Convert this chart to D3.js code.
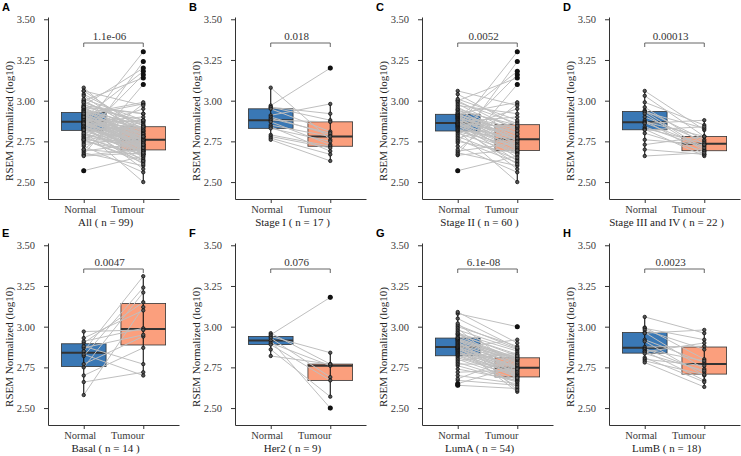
<!DOCTYPE html>
<html>
<head>
<script src="https://d3js.org/d3.v7.min.js"></script>
<style>
  body { margin: 0; background: #fff; }
</style>
</head>
<body>
<svg width="741" height="456"></svg>
<script>
var categories = ["Normal", "Tumour"];
var yTicks = [2.50, 2.75, 3.00, 3.25, 3.50];
var letters = ["A", "B", "C", "D", "E", "F", "G", "H"];
var subtitles = ["All ( n = 99)", "Stage I ( n = 17 )", "Stage II ( n = 60 )", "Stage III and IV ( n = 22 )",
                 "Basal ( n = 14 )", "Her2 ( n = 9)", "LumA ( n = 54)", "LumB ( n = 18)"];
var pValues = ["1.1e-06", "0.018", "0.0052", "0.00013", "0.0047", "0.076", "6.1e-08", "0.0023"];

// paired samples: index i of Normal goes with index i of Tumour
var stageINormal = [3.08, 2.97, 2.96, 2.96, 2.95, 2.91, 2.90, 2.89, 2.88, 2.87, 2.85, 2.84, 2.83, 2.79, 2.78, 2.77, 2.76];
var stageITumour = [2.76, 3.20, 2.92, 2.88, 2.81, 2.98, 2.79, 2.80, 2.87, 2.73, 2.78, 2.69, 2.75, 2.72, 2.71, 2.67, 2.63];

var stageIINormal = [2.57, 2.665, 2.67, 2.68, 2.69, 2.70, 2.72, 2.74, 2.75, 2.76, 2.77, 2.78, 2.79, 2.80, 2.81,
  2.815, 2.82, 2.825, 2.83, 2.835, 2.84, 2.84, 2.845, 2.85, 2.85, 2.855, 2.855, 2.86, 2.86, 2.86,
  2.865, 2.87, 2.875, 2.88, 2.885, 2.89, 2.89, 2.895, 2.90, 2.90, 2.905, 2.91, 2.91, 2.915, 2.915,
  2.92, 2.925, 2.93, 2.94, 2.945, 2.95, 2.96, 2.97, 2.98, 2.99, 3.00, 3.00, 3.01, 3.04, 3.06];
var stageIITumour = [2.66, 2.70, 3.10, 2.60, 2.74, 2.98, 2.56, 3.24, 2.675, 2.62, 2.87, 2.64, 3.16, 2.68, 2.72,
  2.50, 2.76, 2.685, 2.95, 2.61, 2.73, 3.30, 2.69, 2.58, 2.765, 2.705, 2.81, 2.63, 2.745, 2.84,
  2.67, 2.90, 2.71, 2.775, 2.65, 2.82, 2.735, 3.18, 2.695, 2.78, 2.755, 2.83, 2.715, 2.80, 2.76,
  2.99, 2.725, 2.79, 2.85, 2.75, 2.835, 2.77, 2.92, 2.795, 2.86, 3.14, 2.815, 2.88, 2.845, 2.97];

var stageIIINormal = [3.06, 3.03, 2.99, 2.96, 2.94, 2.935, 2.93, 2.92, 2.90, 2.88, 2.87, 2.865, 2.86, 2.84, 2.83,
  2.825, 2.82, 2.80, 2.76, 2.73, 2.70, 2.66];
var stageIIITumour = [2.82, 2.78, 2.85, 2.73, 2.76, 2.70, 2.83, 2.69, 2.75, 2.67, 2.78, 2.72, 2.88, 2.71, 2.74,
  2.66, 2.84, 2.69, 2.73, 2.78, 2.67, 2.68];

var allNormal = stageINormal.concat(stageIINormal, stageIIINormal);
var allTumour = stageITumour.concat(stageIITumour, stageIIITumour);

var basalNormal = [2.58, 2.66, 2.70, 2.75, 2.77, 2.82, 2.83, 2.85, 2.87, 2.88, 2.90, 2.91, 2.93, 2.97];
var basalTumour = [3.12, 2.72, 2.87, 3.21, 2.94, 3.24, 2.70, 3.31, 2.95, 2.77, 3.15, 2.99, 3.10, 2.98];

var her2Normal = [2.96, 2.95, 2.94, 2.93, 2.915, 2.90, 2.89, 2.86, 2.82];
var her2Tumour = [2.77, 3.18, 2.84, 2.69, 2.50, 2.76, 2.67, 2.57, 2.77];

var lumANormal = [2.64, 2.65, 2.67, 2.68, 2.70, 2.72, 2.74, 2.76, 2.77, 2.78, 2.79, 2.80, 2.81, 2.82, 2.825,
  2.83, 2.835, 2.84, 2.845, 2.85, 2.855, 2.86, 2.86, 2.865, 2.87, 2.87, 2.875, 2.875, 2.88, 2.885,
  2.89, 2.895, 2.90, 2.905, 2.91, 2.915, 2.92, 2.92, 2.925, 2.93, 2.93, 2.94, 2.95, 2.955, 2.96,
  2.97, 2.98, 2.99, 3.00, 3.01, 3.02, 3.05, 3.08, 3.09];
var lumATumour = [2.62, 2.76, 2.64, 2.815, 2.65, 2.735, 2.67, 2.66, 2.77, 2.665, 2.84, 2.675, 2.695, 2.69, 2.705,
  2.825, 2.71, 2.70, 2.725, 2.715, 2.63, 2.72, 2.74, 2.73, 2.745, 2.92, 2.755, 2.745, 2.60, 2.75,
  2.775, 2.765, 2.785, 2.68, 2.79, 2.78, 2.80, 2.795, 2.81, 2.80, 2.61, 2.805, 2.83, 2.82, 2.85,
  2.69, 2.86, 2.685, 2.88, 2.865, 2.74, 2.87, 3.00, 2.90];

var lumBNormal = [3.06, 2.995, 2.99, 2.98, 2.965, 2.96, 2.92, 2.91, 2.875, 2.865, 2.86, 2.85, 2.845, 2.835, 2.81,
  2.80, 2.79, 2.78];
var lumBTumour = [2.96, 2.80, 2.92, 2.86, 2.74, 2.98, 2.78, 2.70, 2.88, 2.72, 2.79, 2.67, 2.90, 2.73, 2.66,
  2.76, 2.705, 2.63];

var normals = [allNormal, stageINormal, stageIINormal, stageIIINormal, basalNormal, her2Normal, lumANormal, lumBNormal];
var tumours = [allTumour, stageITumour, stageIITumour, stageIIITumour, basalTumour, her2Tumour, lumATumour, lumBTumour];

var colors = {Normal: "#3a78b5", Tumour: "#fb9f7d"};
var font = "'Liberation Serif', 'Times New Roman', serif";

var panelW = 187, panelH = 226;
var plotL = 48, plotR = 179, plotT = 17, plotB = 199;

var svg = d3.select("svg");
var y = d3.scaleLinear().domain([2.396, 3.514]).range([plotB, plotT]);
var x = d3.scalePoint().domain(categories).range([plotL, plotR]).padding(0.6);
var boxW = x.step() * 0.75;

function boxStats(vals) {
  var s = vals.slice().sort(d3.ascending);
  var q1 = d3.quantileSorted(s, 0.25), med = d3.quantileSorted(s, 0.5), q3 = d3.quantileSorted(s, 0.75);
  var iqr = q3 - q1;
  var inside = s.filter(function(v) { return v >= q1 - 1.5 * iqr && v <= q3 + 1.5 * iqr; });
  return {
    q1: q1, med: med, q3: q3,
    lo: d3.min(inside), hi: d3.max(inside),
    out: s.filter(function(v) { return v < q1 - 1.5 * iqr || v > q3 + 1.5 * iqr; })
  };
}

letters.forEach(function(letter, k) {
  var g = svg.append("g")
    .attr("transform", "translate(" + (k % 4) * panelW + "," + Math.floor(k / 4) * panelH + ")");
  var groups = {Normal: normals[k], Tumour: tumours[k]};
  var stats = {Normal: boxStats(normals[k]), Tumour: boxStats(tumours[k])};

  // boxes
  categories.forEach(function(c) {
    var st = stats[c], cx = x(c);
    g.append("rect")
      .attr("x", cx - boxW / 2).attr("y", y(st.q3))
      .attr("width", boxW).attr("height", y(st.q1) - y(st.q3))
      .attr("fill", colors[c]).attr("stroke", "#333").attr("stroke-width", 0.8);
    g.append("line")
      .attr("x1", cx - boxW / 2).attr("x2", cx + boxW / 2)
      .attr("y1", y(st.med)).attr("y2", y(st.med))
      .attr("stroke", "#333").attr("stroke-width", 2);
  });

  // paired lines
  g.selectAll("line.pair").data(normals[k]).enter().append("line")
    .attr("class", "pair")
    .attr("x1", x("Normal")).attr("y1", function(d) { return y(d); })
    .attr("x2", x("Tumour")).attr("y2", function(d, i) { return y(tumours[k][i]); })
    .attr("stroke", "#bfbfbf").attr("stroke-width", 1);

  categories.forEach(function(c) {
    var st = stats[c], cx = x(c);
    g.append("line")
      .attr("x1", cx).attr("x2", cx).attr("y1", y(st.lo)).attr("y2", y(st.hi))
      .attr("stroke", "#111").attr("stroke-width", 1.1);
    g.selectAll("circle.pt" + c).data(groups[c]).enter().append("circle")
      .attr("cx", cx).attr("cy", function(d) { return y(d); })
      .attr("r", 1.7).attr("fill", "#555").attr("stroke", "#111").attr("stroke-width", 0.8);
    g.selectAll("circle.out" + c).data(st.out).enter().append("circle")
      .attr("cx", cx).attr("cy", function(d) { return y(d); })
      .attr("r", 2.5).attr("fill", "#111");
  });

  // axes
  var ya = g.append("g").attr("transform", "translate(" + plotL + ",0)")
    .call(d3.axisLeft(y).tickValues(yTicks).tickFormat(d3.format(".2f")).tickSize(4).tickSizeOuter(0).tickPadding(9));
  var xa = g.append("g").attr("transform", "translate(0," + plotB + ")")
    .call(d3.axisBottom(x).tickSize(4).tickSizeOuter(0).tickPadding(3));
  [ya, xa].forEach(function(a) {
    a.selectAll("path, line").attr("stroke", "#333");
    a.selectAll("text").attr("font-family", font).attr("font-size", 10.5).attr("fill", "#3a3a3a");
  });
  xa.selectAll("text").attr("dx", function(d) { return d == "Normal" ? -4 : -16; });

  // p-value bracket
  var by = 43;
  g.append("path")
    .attr("d", "M" + x("Normal") + "," + (by + 4) + "V" + by + "H" + x("Tumour") + "V" + (by + 4))
    .attr("fill", "none").attr("stroke", "#555").attr("stroke-width", 0.9);
  g.append("text")
    .attr("x", (x("Normal") + x("Tumour")) / 2 - 4).attr("y", by - 3)
    .attr("text-anchor", "middle").attr("font-family", font).attr("font-size", 11).attr("fill", "#333")
    .text(pValues[k]);

  g.append("text")
    .attr("x", (x("Normal") + x("Tumour")) / 2 - 8).attr("y", 226)
    .attr("text-anchor", "middle").attr("font-family", font).attr("font-size", 11).attr("fill", "#222")
    .text(subtitles[k]);

  g.append("text")
    .attr("transform", "translate(13,121) rotate(-90)")
    .attr("text-anchor", "middle").attr("font-family", font).attr("font-size", 11).attr("fill", "#222")
    .text("RSEM Normalized (log10)");

  g.append("text")
    .attr("x", 2).attr("y", 11)
    .attr("font-family", "'Liberation Sans', Arial, sans-serif").attr("font-weight", "bold").attr("font-size", 11)
    .text(letter);
});
</script>
</body>
</html>
